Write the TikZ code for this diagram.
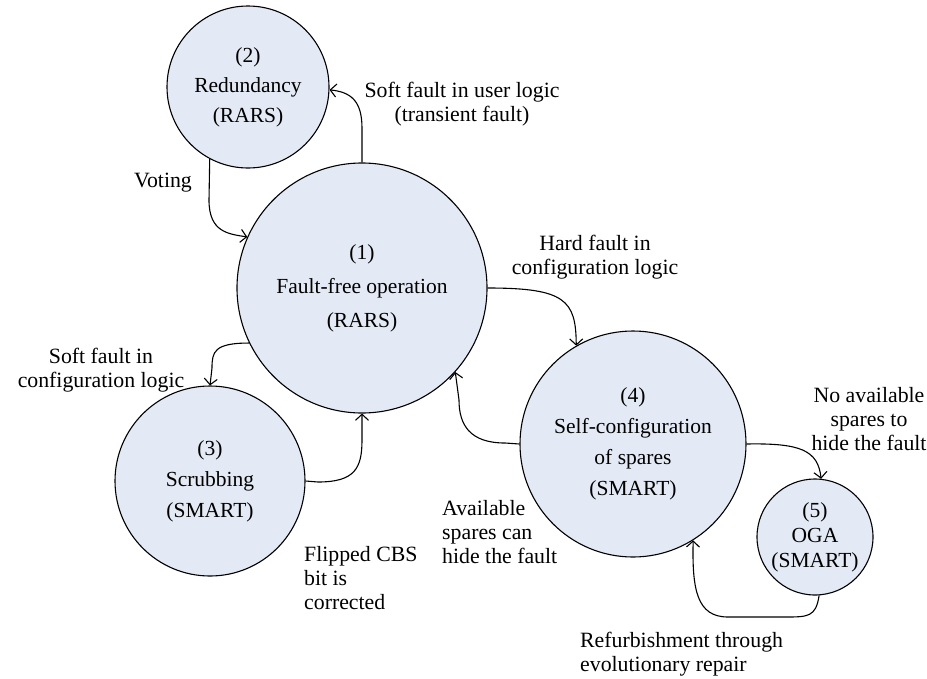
\documentclass[tikz,border=0pt]{standalone}
\usepackage{fontspec}
\setmainfont{Liberation Serif}
\usetikzlibrary{arrows.meta}
\definecolor{stateblue}{RGB}{228,234,245}
\tikzset{
  state/.style={circle, draw=black, line width=1.1pt, fill=stateblue,
    inner sep=0pt, align=center},
  lbl/.style={font=\fontsize{21.8}{23.8}\selectfont, inner sep=0pt},
  flow/.style={line width=1.1pt, -{Straight Barb[length=6pt,width=13pt,line width=1.1pt]}}
}
\begin{document}
\begin{tikzpicture}[x=1pt,y=-1pt]
\useasboundingbox (0,0) rectangle (927,678);

% states
\node[state, minimum size=250pt, font=\fontsize{21.5}{34}\selectfont] (n1) at (362,288)
  {(1)\\Fault-free operation\\(RARS)};
\node[state, minimum size=162pt, font=\fontsize{21.5}{30}\selectfont] (n2) at (248,87)
  {(2)\\Redundancy\\(RARS)};
\node[state, minimum size=190pt, font=\fontsize{21.5}{31}\selectfont] (n3) at (210,481)
  {(3)\\Scrubbing\\(SMART)};
\node[state, minimum size=226pt, font=\fontsize{21.5}{31}\selectfont] (n4) at (633,444)
  {(4)\\Self-configuration\\of spares\\(SMART)};
\node[state, minimum size=116pt, font=\fontsize{21.5}{25}\selectfont] (n5) at (815,537)
  {(5)\\OGA\\(SMART)};

% transitions
\draw[flow] (n1.north) -- (362,128) .. controls (362,100) and (350,92) .. (n2.-2);
\draw[flow] (n2.-118) -- (209,200) .. controls (209,232) and (228,234) .. (n1.156);
\draw[flow] (n1.-154) .. controls (214,343) and (212,352) .. (212,368) -- (n3.north);
\draw[flow] (n3.east) -- (318,482) .. controls (355,482) and (362,468) .. (362,440) -- (n1.south);
\draw[flow] (n1.east) .. controls (565,288) and (576,300) .. (n4.120);
\draw[flow] (n4.west) -- (505,443) .. controls (470,443) and (459,425) .. (459,400) -- (n1.-42);
\draw[flow] (n4.east) .. controls (800,443) and (818,450) .. (n5.84);
\draw[flow] (n5.-86) .. controls (816,617) and (808,617) .. (785,617) -- (728,617)
  .. controls (697,617) and (692,590) .. (n4.-58);

% transition labels
\node[lbl, align=center] (l12) at (462,104) {Soft fault in user logic\\(transient fault)};
\node[lbl] (l21) at (163,183) {Voting};
\node[lbl, align=center] (l14) at (595,257) {Hard fault in\\configuration logic};
\node[lbl, align=center] (l13) at (101,370) {Soft fault in\\configuration logic};
\node[lbl, align=left, anchor=west] (l31) at (304,578) {Flipped CBS\\bit is\\corrected};
\node[lbl, align=left, anchor=west] (l41) at (442,532) {Available\\spares can\\hide the fault};
\node[lbl, align=center] (l45) at (869,419) {No available\\spares to\\hide the fault};
\node[lbl, align=left, anchor=west] (l54) at (580,654) {Refurbishment through\\evolutionary repair};
\end{tikzpicture}
\end{document}
